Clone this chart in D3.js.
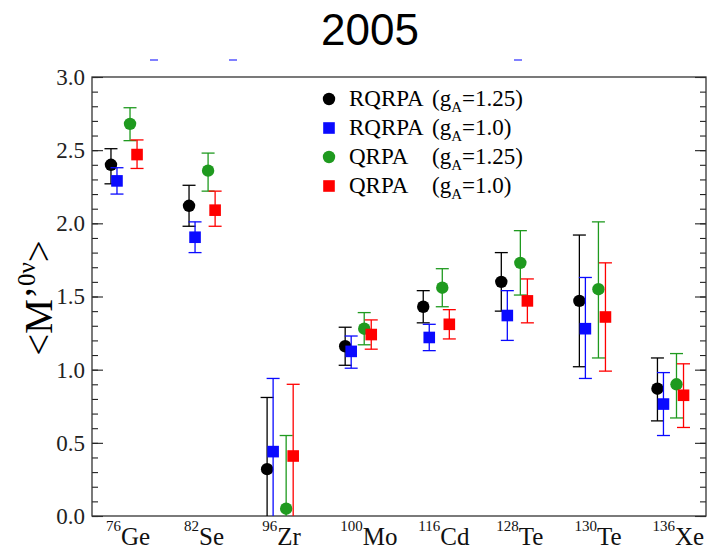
<!DOCTYPE html>
<html>
<head>
<meta charset="utf-8">
<script src="https://cdn.jsdelivr.net/npm/d3@7"></script>
<style>
  body { margin: 0; background: #fff; }
  svg { display: block; }
  .serif { font-family: "Liberation Serif", "DejaVu Serif", serif; }
</style>
</head>
<body>
<div id="chart"></div>
<script>
// nuclei on the x axis
let nuclei = ['Ge', 'Se', 'Zr', 'Mo', 'Cd', 'Te', 'Te', 'Xe']
let massNumbers = ['76', '82', '96', '100', '116', '128', '130', '136']

// RQRPA gA=1.25
let rqrpa125 = [2.40, 2.12, 0.32, 1.16, 1.43, 1.60, 1.47, 0.87]
let rqrpa125Lo = [2.27, 1.98, -0.2, 1.03, 1.32, 1.40, 1.02, 0.65]
let rqrpa125Hi = [2.51, 2.26, 0.81, 1.29, 1.54, 1.80, 1.92, 1.08]

// RQRPA gA=1.0
let rqrpa10 = [2.29, 1.905, 0.44, 1.125, 1.22, 1.37, 1.28, 0.765]
let rqrpa10Lo = [2.20, 1.80, -0.2, 1.01, 1.13, 1.20, 0.94, 0.55]
let rqrpa10Hi = [2.38, 2.01, 0.94, 1.23, 1.31, 1.54, 1.63, 0.98]

// QRPA gA=1.25
let qrpa125 = [2.68, 2.36, 0.05, 1.28, 1.56, 1.73, 1.55, 0.90]
let qrpa125Lo = [2.565, 2.22, -0.2, 1.17, 1.43, 1.51, 1.08, 0.67]
let qrpa125Hi = [2.79, 2.48, 0.55, 1.39, 1.69, 1.95, 2.01, 1.11]

// QRPA gA=1.0
let qrpa10 = [2.47, 2.09, 0.41, 1.24, 1.31, 1.47, 1.36, 0.825]
let qrpa10Lo = [2.375, 1.98, -0.2, 1.14, 1.21, 1.32, 0.99, 0.605]
let qrpa10Hi = [2.57, 2.22, 0.90, 1.34, 1.41, 1.62, 1.73, 1.04]

let yMajorTicks = [0, 0.5, 1.0, 1.5, 2.0, 2.5, 3.0]

let series = [
    {name: 'RQRPA', ga: '=1.25)', shape: 'circle', color: '#000000', off: -0.167, v: rqrpa125, lo: rqrpa125Lo, hi: rqrpa125Hi},
    {name: 'RQRPA', ga: '=1.0)', shape: 'square', color: '#0a0aff', off: -0.09, v: rqrpa10, lo: rqrpa10Lo, hi: rqrpa10Hi},
    {name: 'QRPA', ga: '=1.25)', shape: 'circle', color: '#1f9a1f', off: 0.077, v: qrpa125, lo: qrpa125Lo, hi: qrpa125Hi},
    {name: 'QRPA', ga: '=1.0)', shape: 'square', color: '#ff0000', off: 0.167, v: qrpa10, lo: qrpa10Lo, hi: qrpa10Hi}
]

let W = 717, H = 552
let plot = {left: 92, right: 706, top: 77, bottom: 516}

let svg = d3.select('#chart')
    .append('svg')
    .attr('width', W)
    .attr('height', H)

let x = d3.scaleLinear()
    .domain([0.59, 8.455])
    .range([plot.left, plot.right])

let y = d3.scaleLinear()
    .domain([0, 3])
    .range([plot.bottom, plot.top])

// title
svg.append('text')
    .attr('x', 370)
    .attr('y', 45)
    .attr('text-anchor', 'middle')
    .style('font-family', '"Liberation Sans", Arial, sans-serif')
    .style('font-size', '44px')
    .text('2005')

// leftovers of cropped text above the frame
svg.selectAll('.frag')
    .data([154, 233, 518])
    .enter()
    .append('line')
    .attr('x1', d => d - 4)
    .attr('x2', d => d + 4)
    .attr('y1', 60)
    .attr('y2', 60)
    .attr('stroke', '#2a2aff')
    .attr('stroke-width', 1.2)

// minor + major ticks, left and right, pointing inward
let minorTicks = d3.range(0, 31).map(d => d / 10)

let gL = svg.append('g').attr('transform', `translate(${plot.left},0)`)
gL.call(d3.axisLeft(y).tickValues(minorTicks).tickSize(-6).tickFormat(''))
gL.append('g').call(d3.axisLeft(y).tickValues(yMajorTicks).tickSize(-11).tickPadding(7).tickFormat(d3.format('.1f')))

let gR = svg.append('g').attr('transform', `translate(${plot.right},0)`)
gR.call(d3.axisRight(y).tickValues(minorTicks).tickSize(-6).tickFormat(''))
gR.append('g').call(d3.axisRight(y).tickValues(yMajorTicks).tickSize(-11).tickFormat(''))

svg.selectAll('.domain').remove()
svg.selectAll('.tick line').attr('stroke', '#222').attr('stroke-width', 1.1)
svg.selectAll('.tick text')
    .attr('class', 'serif')
    .style('font-size', '23px')
    .attr('fill', '#222')

// frame
svg.append('rect')
    .attr('x', plot.left)
    .attr('y', plot.top)
    .attr('width', plot.right - plot.left)
    .attr('height', plot.bottom - plot.top)
    .attr('fill', 'none')
    .attr('stroke', '#333')
    .attr('stroke-width', 1.3)

// x labels with mass number as superscript
let xl = svg.append('g')
    .selectAll('text')
    .data(nuclei)
    .enter()
    .append('text')
    .attr('class', 'serif')
    .attr('x', (d, i) => x(i + 1) - 18)
    .attr('y', 545)
    .attr('fill', '#111')
xl.append('tspan')
    .style('font-size', '15px')
    .attr('dy', -14)
    .text((d, i) => massNumbers[i])
xl.append('tspan')
    .style('font-size', '25px')
    .attr('dy', 14)
    .text(d => d)

// y title
let yt = svg.append('text')
    .attr('class', 'serif')
    .attr('transform', 'translate(52,298) rotate(-90)')
    .attr('text-anchor', 'middle')
    .style('font-size', '39px')
yt.append('tspan').text('<M\u2019')
yt.append('tspan').style('font-size', '25px').attr('dy', -17).text('0\u03bd')
yt.append('tspan').attr('dy', 17).text('>')

// clip for the error bars that run below zero
svg.append('clipPath')
    .attr('id', 'plotclip')
    .append('rect')
    .attr('x', plot.left)
    .attr('y', plot.top)
    .attr('width', plot.right - plot.left)
    .attr('height', plot.bottom - plot.top)

let marks = svg.append('g').attr('clip-path', 'url(#plotclip)')
let cap = 6.5

function drawMarker(g, shape, color)
{
    if (shape == 'circle')
        g.append('circle').attr('r', 6.2).attr('fill', color)
    else
        g.append('rect').attr('x', -5.8).attr('y', -5.8).attr('width', 11.6).attr('height', 11.6).attr('fill', color)
}

series.forEach(s =>
{
    let g = marks.append('g')
    let pts = s.v.map((v, i) => ({cx: x(i + 1 + s.off), v: v, lo: s.lo[i], hi: s.hi[i]}))

    let bars = g.selectAll('.bar').data(pts).enter().append('g')
        .attr('stroke', s.color)
        .attr('stroke-width', 1.3)
    bars.append('line')
        .attr('x1', d => d.cx).attr('x2', d => d.cx)
        .attr('y1', d => y(d.lo)).attr('y2', d => y(d.hi))
    bars.append('line')
        .attr('x1', d => d.cx - cap).attr('x2', d => d.cx + cap)
        .attr('y1', d => y(d.hi)).attr('y2', d => y(d.hi))
    bars.append('line')
        .attr('x1', d => d.cx - cap).attr('x2', d => d.cx + cap)
        .attr('y1', d => y(d.lo)).attr('y2', d => y(d.lo))

    g.selectAll('.pt').data(pts).enter().append('g')
        .attr('transform', d => `translate(${d.cx},${y(d.v)})`)
        .each(function() { drawMarker(d3.select(this), s.shape, s.color) })
})

// legend
let legend = svg.append('g')
series.forEach((s, i) =>
{
    let row = legend.append('g').attr('transform', `translate(329,${99 + i * 29})`)
    drawMarker(row, s.shape, s.color)
    row.append('text')
        .attr('class', 'serif')
        .attr('x', 20)
        .attr('y', 7)
        .style('font-size', '23px')
        .text(s.name)
    let t = row.append('text')
        .attr('class', 'serif')
        .attr('x', 103)
        .attr('y', 7)
        .style('font-size', '23px')
    t.append('tspan').text('(g')
    t.append('tspan').style('font-size', '15px').attr('dy', 6).text('A')
    t.append('tspan').attr('dy', -6).text(s.ga)
})
</script>
</body>
</html>
